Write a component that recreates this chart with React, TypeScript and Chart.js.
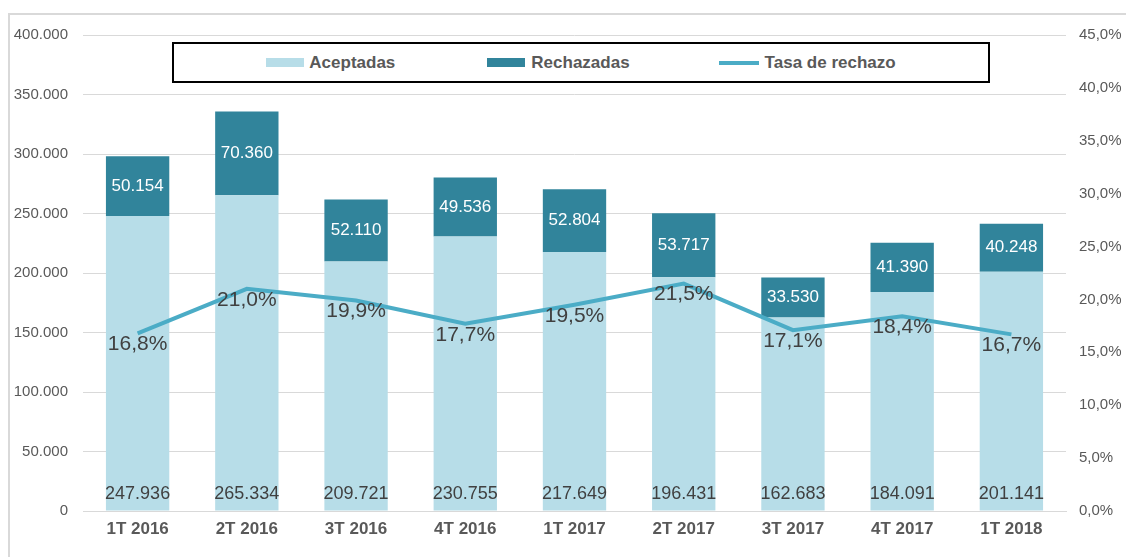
import React, { useEffect, useRef } from "react";
import { Chart, registerables } from "chart.js";
Chart.register(...registerables);

const categories = ["1T 2016", "2T 2016", "3T 2016", "4T 2016", "1T 2017", "2T 2017", "3T 2017", "4T 2017", "1T 2018"];
const aceptadas = [247936, 265334, 209721, 230755, 217649, 196431, 162683, 184091, 201141];
const rechazadas = [50154, 70360, 52110, 49536, 52804, 53717, 33530, 41390, 40248];
const tasaRechazo = [16.8, 21.0, 19.9, 17.7, 19.5, 21.5, 17.1, 18.4, 16.7];
const leftMax = 400000;
const leftStep = 50000;
const rightMax = 45;
const rightStep = 5;

const FONT = "'Liberation Sans', Arial, sans-serif";
const C_ACC = "#b7dde8";
const C_REJ = "#31849b";
const C_LINE = "#4bacc6";

const fmtThousands = (v: number) => Math.round(v).toString().replace(/\B(?=(\d{3})+(?!\d))/g, ".");
const fmtPct = (v: number) => v.toFixed(1).replace(".", ",") + "%";

const labelPlugin = {
  id: "valueLabels",
  afterDatasetsDraw(chart: any) {
    const ctx = chart.ctx;
    ctx.save();
    ctx.textAlign = "center";
    ctx.textBaseline = "middle";
    const m0 = chart.getDatasetMeta(0);
    ctx.font = `18px ${FONT}`;
    ctx.fillStyle = "#404040";
    m0.data.forEach((bar: any, i: number) => {
      ctx.fillText(fmtThousands(aceptadas[i]), bar.x, bar.base - 16);
    });
    const m1 = chart.getDatasetMeta(1);
    ctx.font = `17px ${FONT}`;
    ctx.fillStyle = "#ffffff";
    m1.data.forEach((bar: any, i: number) => {
      ctx.fillText(fmtThousands(rechazadas[i]), bar.x, (bar.y + bar.base) / 2);
    });
    const m2 = chart.getDatasetMeta(2);
    ctx.font = `21px ${FONT}`;
    ctx.fillStyle = "#404040";
    m2.data.forEach((pt: any, i: number) => {
      ctx.fillText(fmtPct(tasaRechazo[i]), pt.x, pt.y + 11);
    });
    ctx.restore();
  },
};

export default function App() {
  const ref = useRef<HTMLCanvasElement | null>(null);
  useEffect(() => {
    if (!ref.current) return;
    const chart = new Chart(ref.current, {
      type: "bar",
      data: {
        labels: categories,
        datasets: [
          {
            type: "bar",
            label: "Aceptadas",
            data: aceptadas,
            backgroundColor: C_ACC,
            stack: "s",
            yAxisID: "y",
            order: 2,
            barPercentage: 0.58,
            categoryPercentage: 1,
          },
          {
            type: "bar",
            label: "Rechazadas",
            data: rechazadas,
            backgroundColor: C_REJ,
            stack: "s",
            yAxisID: "y",
            order: 2,
            barPercentage: 0.58,
            categoryPercentage: 1,
          },
          {
            type: "line",
            label: "Tasa de rechazo",
            data: tasaRechazo,
            borderColor: C_LINE,
            borderWidth: 4,
            pointRadius: 0,
            tension: 0,
            yAxisID: "y1",
            order: 0,
          } as any,
        ],
      },
      options: {
        responsive: false,
        animation: false,
        layout: { padding: { top: 35, left: 0, right: 0, bottom: 0 } },
        plugins: { legend: { display: false }, tooltip: { enabled: false } },
        scales: {
          x: {
            stacked: true,
            grid: { display: false, drawTicks: false },
            border: { display: true, color: "#d9d9d9", width: 1 },
            ticks: { color: "#595959", font: { family: FONT, size: 17, weight: "bold" }, padding: 8 },
            afterFit: (s: any) => { s.height = 46; },
          },
          y: {
            stacked: true,
            position: "left",
            min: 0,
            max: leftMax,
            grid: { color: "#d9d9d9", lineWidth: 1, drawTicks: false },
            border: { display: false },
            ticks: {
              stepSize: leftStep,
              color: "#595959",
              font: { family: FONT, size: 15 },
              padding: 15,
              callback: (v: any) => fmtThousands(Number(v)),
            },
            afterFit: (s: any) => { s.width = 83; },
          },
          y1: {
            position: "right",
            min: 0,
            max: rightMax,
            grid: { display: false, drawTicks: false },
            border: { display: false },
            ticks: {
              stepSize: rightStep,
              color: "#595959",
              font: { family: FONT, size: 15 },
              padding: 13,
              callback: (v: any) => fmtPct(Number(v)),
            },
            afterFit: (s: any) => { s.width = 60; },
          },
        },
      } as any,
      plugins: [labelPlugin],
    });
    return () => chart.destroy();
  }, []);

  const legendText: React.CSSProperties = {
    fontFamily: FONT,
    fontWeight: "bold",
    fontSize: 17,
    color: "#595959",
    whiteSpace: "nowrap",
  };

  return (
    <div style={{ position: "absolute", left: 0, top: 0, width: 1126, height: 557, overflow: "hidden", background: "#fff" }}>
      <div style={{ position: "absolute", left: 8, top: 13, width: 2000, height: 2000, borderTop: "2px solid #d9d9d9", borderLeft: "2px solid #d9d9d9" }} />
      <canvas ref={ref} width={1126} height={557} style={{ position: "absolute", left: 0, top: 0 }} />
      <div
        style={{
          position: "absolute",
          left: 172,
          top: 42,
          width: 818,
          height: 41,
          boxSizing: "border-box",
          border: "2px solid #000",
          background: "#fff",
          display: "flex",
          alignItems: "center",
          justifyContent: "center",
        }}
      >
        <span style={{ display: "inline-block", width: 38, height: 9, background: C_ACC, marginRight: 5 }} />
        <span style={legendText}>Aceptadas</span>
        <span style={{ display: "inline-block", width: 92 }} />
        <span style={{ display: "inline-block", width: 38, height: 9, background: C_REJ, marginRight: 6 }} />
        <span style={legendText}>Rechazadas</span>
        <span style={{ display: "inline-block", width: 89 }} />
        <span style={{ display: "inline-block", width: 40, height: 4, background: C_LINE, marginRight: 6 }} />
        <span style={legendText}>Tasa de rechazo</span>
      </div>
    </div>
  );
}
